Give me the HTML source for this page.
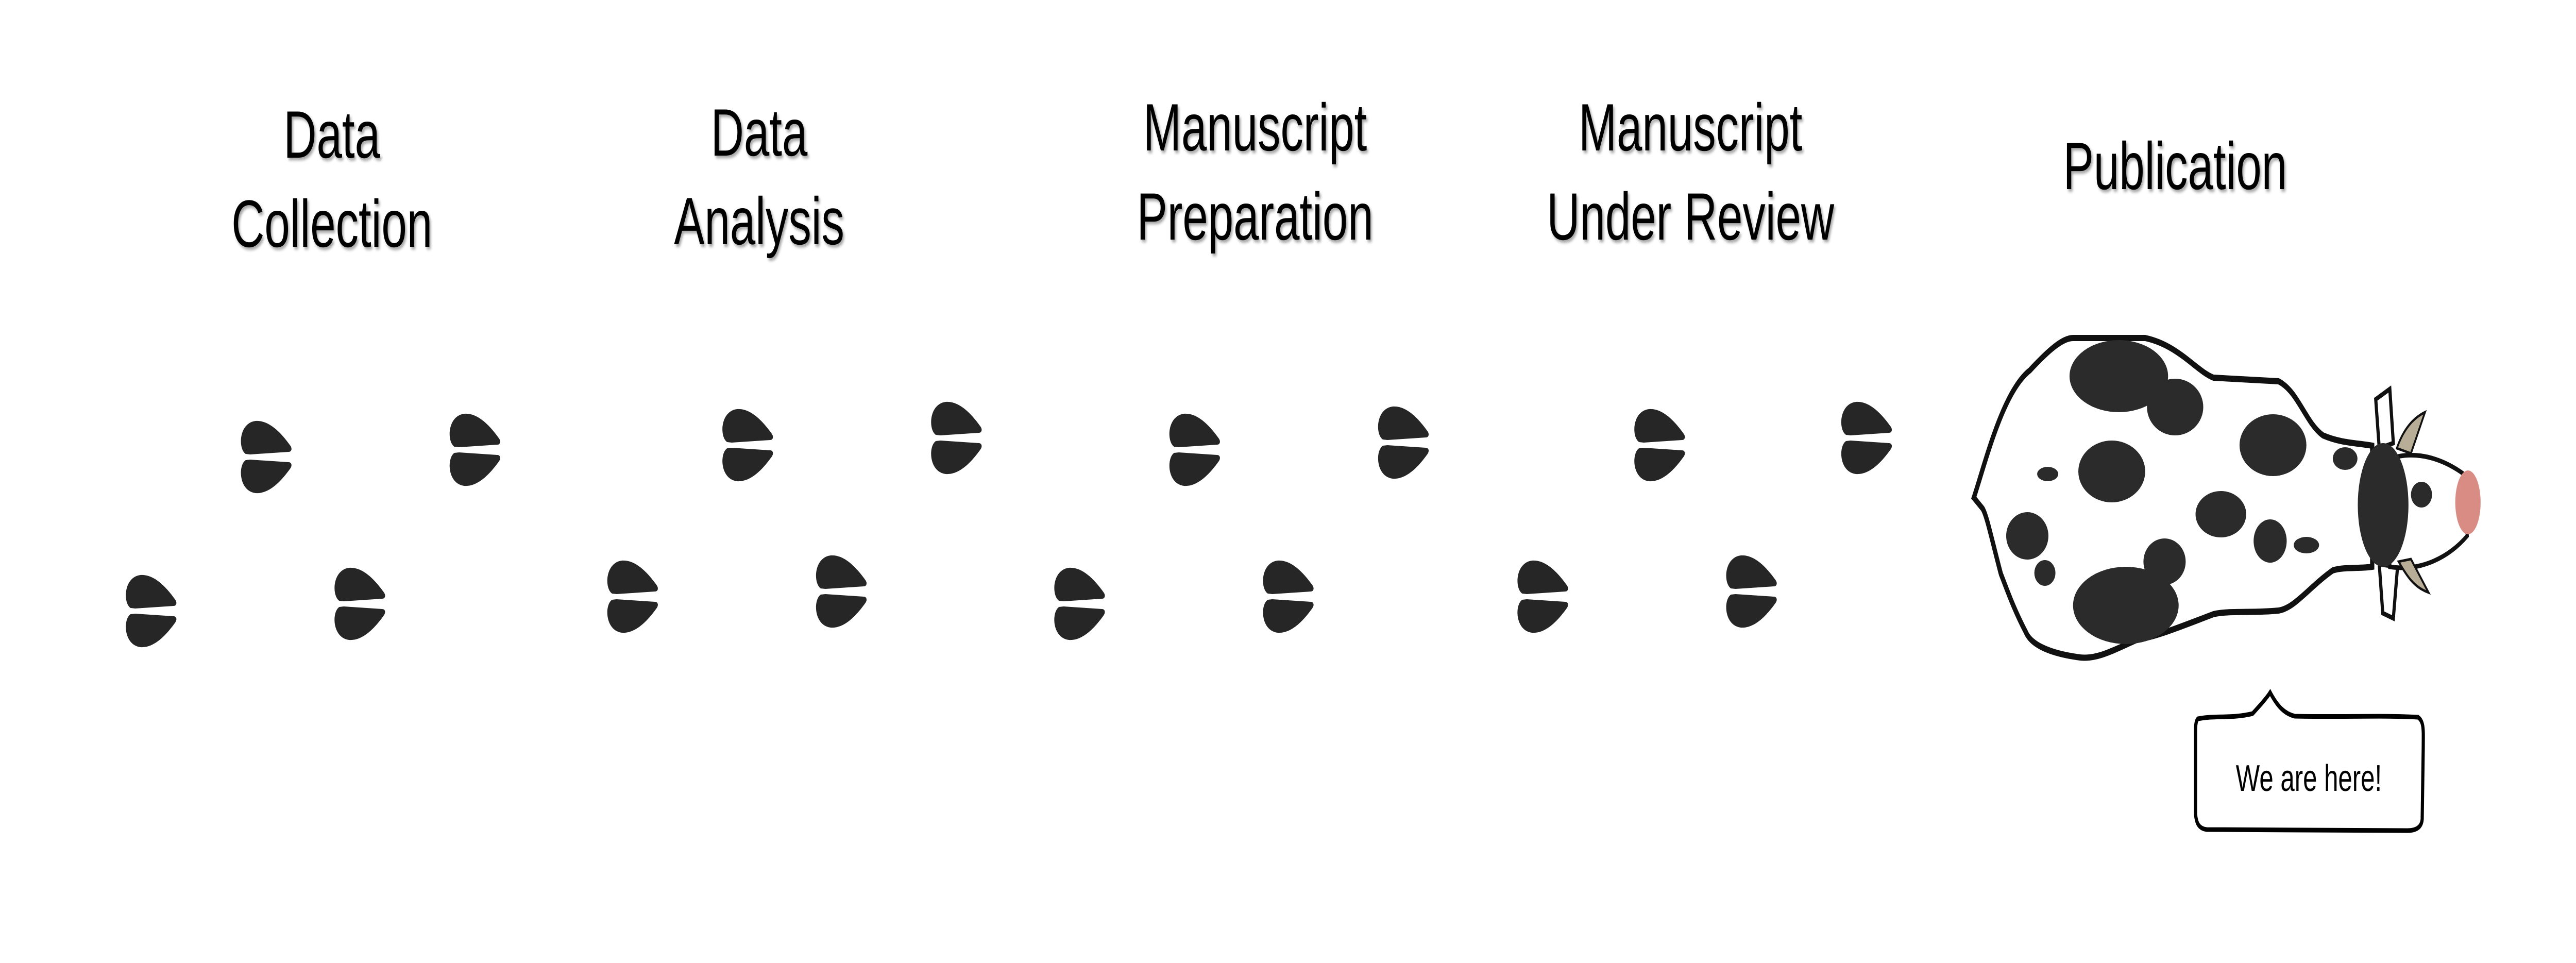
<!DOCTYPE html>
<html><head><meta charset="utf-8"><style>
html,body{margin:0;padding:0;background:#fff;width:100%;height:100%;overflow:hidden;}
svg{display:block;position:absolute;left:0;top:0;width:100vw;height:100vh;}
</style></head><body>
<svg viewBox="0 0 7319 1869" preserveAspectRatio="none">
<defs>
<filter id="sh" x="-10%" y="-30%" width="120%" height="160%"><feDropShadow dx="4" dy="5" stdDeviation="3" flood-color="#000" flood-opacity="0.35"/></filter>
<path id="hh" d="M -58,-6 C -80,-16 -78,-66 -30,-70 C 10,-72 45,-45 69,-22 C 75,-16 72,-10 64,-10 L -45,-5 Z" fill="#262626"/>
<g id="hf"><use href="#hh"/><use href="#hh" transform="scale(1,-1)"/></g>
</defs>
<rect width="7319" height="1869" fill="#fff"/>
<g font-family="Liberation Sans, sans-serif" font-size="130" text-anchor="middle" fill="#000" filter="url(#sh)">
<text x="943" y="306">Data</text><text x="943" y="479">Collection</text>
<text x="2157" y="302">Data</text><text x="2157" y="474">Analysis</text>
<text x="3566" y="292">Manuscript</text><text x="3566" y="465">Preparation</text>
<text x="4803" y="292">Manuscript</text><text x="4803" y="465">Under Review</text>
<text x="6180" y="367">Publication</text>
</g>
<g>
<use href="#hf" transform="translate(756,887)"/>
<use href="#hf" transform="translate(1349,873)"/>
<use href="#hf" transform="translate(2124,864)"/>
<use href="#hf" transform="translate(2717,850)"/>
<use href="#hf" transform="translate(3394,873)"/>
<use href="#hf" transform="translate(3987,859)"/>
<use href="#hf" transform="translate(4715,864)"/>
<use href="#hf" transform="translate(5303,850)"/>
<use href="#hf" transform="translate(429,1186)"/>
<use href="#hf" transform="translate(1022,1172)"/>
<use href="#hf" transform="translate(1797,1158)"/>
<use href="#hf" transform="translate(2390,1148)"/>
<use href="#hf" transform="translate(3067,1172)"/>
<use href="#hf" transform="translate(3660,1158)"/>
<use href="#hf" transform="translate(4383,1158)"/>
<use href="#hf" transform="translate(4976,1148)"/>
</g>
<g>
<path d="M 6750,775 L 6790,755 L 6800,860 L 6760,870 Z" fill="#fff" stroke="#111" stroke-width="9"/>
<path d="M 6760,1095 L 6812,1100 L 6800,1200 L 6770,1190 Z" fill="#fff" stroke="#111" stroke-width="9"/>
<path d="M 5608,966 C 5640,900 5690,760 5767,719 C 5820,680 5860,656 5890,656 L 6095,656 C 6190,670 6240,720 6289,733 L 6474,740 C 6530,760 6550,820 6600,845 C 6650,860 6700,860 6740,865 L 6740,1100 C 6700,1104 6660,1100 6628,1107 C 6560,1140 6520,1180 6474,1185 C 6400,1190 6330,1185 6289,1192 C 6200,1215 6130,1235 6074,1241 C 6010,1260 5960,1280 5910,1276 C 5820,1268 5770,1250 5756,1227 C 5720,1180 5700,1140 5685,1114 C 5660,1050 5645,1000 5633,987 Z" fill="#fff" stroke="#111" stroke-width="12"/>
<g fill="#2b2b2b">
<ellipse cx="6020" cy="730" rx="140" ry="70"/>
<ellipse cx="6180" cy="790" rx="80" ry="55"/>
<ellipse cx="6458" cy="864" rx="95" ry="60"/>
<ellipse cx="6000" cy="915" rx="95" ry="60"/>
<ellipse cx="5818" cy="920" rx="30" ry="14"/>
<ellipse cx="6663" cy="890" rx="35" ry="22"/>
<ellipse cx="6310" cy="998" rx="72" ry="45"/>
<ellipse cx="6450" cy="1050" rx="47" ry="42"/>
<ellipse cx="6553" cy="1058" rx="36" ry="16"/>
<ellipse cx="5760" cy="1040" rx="60" ry="46"/>
<ellipse cx="5810" cy="1112" rx="30" ry="25"/>
<ellipse cx="6040" cy="1175" rx="150" ry="75"/>
<ellipse cx="6150" cy="1090" rx="60" ry="45"/>
</g>
<path d="M 6790,890 C 6880,870 6960,900 7000,920 L 7010,1040 C 6960,1080 6880,1110 6790,1100 Z" fill="#fff" stroke="#111" stroke-width="9"/>
<ellipse cx="7012" cy="975" rx="36" ry="62" fill="#d98c84"/>
<ellipse cx="6771" cy="980" rx="72" ry="120" fill="#2b2b2b"/>
<ellipse cx="6880" cy="960" rx="30" ry="25" fill="#2b2b2b"/>
<path d="M 6810,870 C 6830,830 6860,810 6890,800 L 6850,880 Z" fill="#b8ad96" stroke="#111" stroke-width="5"/>
<path d="M 6815,1090 C 6840,1120 6860,1140 6900,1150 L 6850,1085 Z" fill="#b8ad96" stroke="#111" stroke-width="5"/>
</g>
<path d="M 6245,1395 C 6300,1388 6340,1395 6400,1385 C 6420,1370 6440,1355 6450,1344 C 6470,1370 6490,1385 6520,1390 C 6650,1392 6780,1388 6870,1392 C 6888,1400 6885,1420 6885,1450 L 6882,1590 C 6880,1608 6860,1612 6840,1612 L 6270,1610 C 6245,1608 6240,1595 6238,1580 L 6238,1420 C 6238,1405 6240,1398 6245,1395 Z" fill="#fff" stroke="#000" stroke-width="9"/>
<text x="6560" y="1535" text-anchor="middle" font-family="Liberation Sans, sans-serif" font-size="72" fill="#000">We are here!</text>
</svg>
</body></html>
